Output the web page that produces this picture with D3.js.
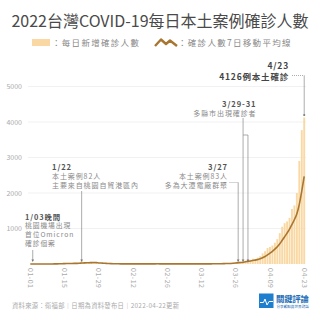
<!DOCTYPE html>
<html>
<head>
<meta charset="utf-8">
<script src="https://cdnjs.cloudflare.com/ajax/libs/d3/7.8.5/d3.min.js"></script>
<style>
body { margin: 0; background: #fff; }
svg { font-family: "Noto Sans CJK TC", "Noto Sans", sans-serif; display: block; }
</style>
</head>
<body>
<div id="chart"></div>
<script>
// daily local cases, by month
var janCases = [1,0,2,0,1,2,3,1,2,5,8,10,12,16,22,14,18,20,13,17,30,82,38,45,27,33,29,22,15,12,10];
var febCases = [8,3,2,3,4,6,5,3,4,6,2,5,3,2,4,5,6,7,3,4,5,6,2,3,4,3,5,2];
var marCases = [3,2,4,2,1,5,6,2,3,4,3,2,4,5,7,8,11,9,7,12,18,20,16,30,38,48,83,62,80,98,112];
var aprCases = [120,150,140,180,220,300,360,450,480,520,600,700,870,1050,1150,1200,1300,1550,1650,2000,2900,3770,4126];

var tickLabels = ["01-01","01-15","01-29","02-12","02-26","03-12","03-26","04-09","04-23"];
var yTicks = [1000, 2000, 3000, 4000, 5000];

var barColor = "#fad8a3";
var lineColor = "#a87631";

function drawChart() {
    var width = 320, height = 320;

    var svg = d3.select("#chart").append("svg")
        .attr("width", width)
        .attr("height", height);

    var cases = janCases.concat(febCases, marCases, aprCases);
    var fmt = d3.timeFormat("%m-%d");
    var days = d3.timeDay.range(new Date(2022, 0, 1), new Date(2022, 3, 24));
    var data = days.map(function(d, i) {
        return { day: fmt(d), value: cases[i] };
    });
    // 7 day moving average
    data.forEach(function(d, i) {
        var win = data.slice(Math.max(0, i - 6), i + 1);
        d.avg = d3.mean(win, function(w) { return w.value; });
    });

    var x = d3.scaleBand()
        .domain(data.map(function(d) { return d.day; }))
        .range([28.8, 305.7])
        .padding(0.22);
    var xc = function(k) { return x(k) + x.bandwidth() / 2; };

    var y = d3.scaleLinear()
        .domain([0, 5000])
        .range([264, 86.5]);

    // title
    svg.append("text")
        .attr("x", 160).attr("y", 27)
        .attr("text-anchor", "middle")
        .style("font-size", "16px")
        .style("fill", "#4a4a4a")
        .text("2022台灣COVID-19每日本土案例確診人數");

    // legend
    svg.append("rect")
        .attr("x", 32).attr("y", 39).attr("width", 18).attr("height", 7)
        .style("fill", barColor);
    svg.append("text")
        .attr("x", 52).attr("y", 46)
        .style("font-size", "8.5px").style("letter-spacing", "1.3px")
        .style("fill", "#888")
        .text("：每日新增確診人數");
    svg.append("path")
        .attr("d", "M155,46 L161,39.5 L166,44 L170,40.5 L177,46")
        .style("fill", "none").style("stroke", lineColor)
        .style("stroke-width", 2.4).style("stroke-linejoin", "round");
    svg.append("text")
        .attr("x", 178).attr("y", 46)
        .style("font-size", "8.5px").style("letter-spacing", "1.3px")
        .style("fill", "#888")
        .text("：確診人數7日移動平均線");

    // grid
    svg.append("g").selectAll("line")
        .data(yTicks)
        .enter().append("line")
        .attr("x1", 28).attr("x2", 306)
        .attr("y1", function(d) { return y(d); })
        .attr("y2", function(d) { return y(d); })
        .style("stroke", "#eeeeee").style("stroke-width", 0.8);

    // y axis
    var yAxis = svg.append("g")
        .attr("transform", "translate(22,0)")
        .call(d3.axisLeft(y).tickValues(yTicks).tickFormat(d3.format("d")).tickSize(0).tickPadding(0));
    yAxis.select(".domain").remove();
    yAxis.selectAll("text")
        .style("font-family", "'Noto Sans CJK TC', sans-serif")
        .style("font-size", "7px").style("fill", "#aaa");

    // x axis, labels run downwards
    var xAxis = svg.append("g")
        .attr("transform", "translate(0,268)")
        .call(d3.axisBottom(x).tickValues(tickLabels).tickSize(0).tickPadding(0));
    xAxis.select(".domain").remove();
    xAxis.selectAll("text")
        .attr("transform", "rotate(90)")
        .attr("x", 0).attr("y", 0).attr("dy", "0.35em")
        .style("text-anchor", "start")
        .style("font-family", "'Noto Sans CJK TC', sans-serif")
        .style("font-size", "7px").style("letter-spacing", "0.5px")
        .style("fill", "#aaa");

    // bars
    svg.append("g").selectAll(".bar")
        .data(data)
        .enter().append("rect")
        .attr("class", "bar")
        .attr("x", function(d) { return x(d.day); })
        .attr("width", x.bandwidth())
        .attr("y", function(d) { return y(d.value); })
        .attr("height", function(d) { return y(0) - y(d.value); })
        .style("fill", barColor);

    // moving average line
    var line = d3.line()
        .x(function(d) { return xc(d.day); })
        .y(function(d) { return y(d.avg); })
        .curve(d3.curveMonotoneX);
    svg.append("path")
        .datum(data)
        .attr("d", line)
        .style("fill", "none")
        .style("stroke", lineColor)
        .style("stroke-width", 1.6);

    // annotations
    var ann = svg.append("g");

    function lines(x0, y0, rows, anchor, gap, size) {
        rows.forEach(function(r, i) {
            ann.append("text")
                .attr("x", x0).attr("y", y0 + i * gap)
                .attr("text-anchor", anchor)
                .style("font-size", r.bold ? (size + 0.6) + "px" : size + "px")
                .style("font-weight", r.bold ? "bold" : "normal")
                .style("letter-spacing", "0.9px")
                .style("fill", r.bold ? "#555" : "#8a8a8a")
                .text(r.t);
        });
    }
    function seg(x1, y1, x2, y2, dash) {
        ann.append("line")
            .attr("x1", x1).attr("y1", y1).attr("x2", x2).attr("y2", y2)
            .style("stroke", "#888").style("stroke-width", 0.7)
            .style("stroke-dasharray", dash ? "1,1" : null);
    }
    function arrow(px, py) {
        ann.append("path")
            .attr("d", "M" + (px - 1.3) + "," + (py - 2.5) + "L" + (px + 1.3) + "," + (py - 2.5) + "L" + px + "," + py + "Z")
            .style("fill", "#777");
    }

    // 1/03
    lines(25, 219.5, [{t: "1/03晚間", bold: true}, {t: "桃園機場出現"}, {t: "首位Omicron"}, {t: "確診個案"}], "start", 8.7, 6.8);
    var a1 = xc("01-02");
    seg(a1, 250, a1, 261);
    arrow(a1, 262);

    // 1/22
    lines(52, 170, [{t: "1/22", bold: true}, {t: "本土案例82人"}, {t: "主要來自桃園自貿港區內"}], "start", 9, 7);
    var a2 = xc("01-22");
    seg(a2, 191, a2, 261);
    arrow(a2, 262);

    // 3/27
    lines(228, 170, [{t: "3/27", bold: true}, {t: "本土案例83人"}, {t: "多為大潭電廠群聚"}], "end", 9, 7);
    var a3 = xc("03-27");
    seg(229.5, 182.5, a3, 182.5, true);
    seg(a3, 182.5, a3, 261);
    arrow(a3, 262);

    // 3/29-31
    lines(256.5, 106.5, [{t: "3/29-31", bold: true}, {t: "多縣市出現確診者"}], "end", 9.5, 7);
    var a4 = xc("03-29"), a5 = xc("03-31");
    seg(a4, 118, a4, 261);
    seg(a4, 135, a5, 135);
    seg(a5, 135, a5, 261);
    arrow(a4, 262);
    arrow(a5, 262);

    // 4/23
    ann.append("text")
        .attr("x", 289).attr("y", 68.5)
        .attr("text-anchor", "end")
        .style("font-size", "8.5px").style("font-weight", "bold")
        .style("letter-spacing", "0.8px").style("fill", "#444")
        .text("4/23");
    ann.append("text")
        .attr("x", 289).attr("y", 79.5)
        .attr("text-anchor", "end")
        .style("font-size", "8.5px").style("font-weight", "bold")
        .style("letter-spacing", "0.8px").style("fill", "#444")
        .text("4126例本土確診");
    var a6 = xc("04-23");
    seg(292, 75.5, a6, 75.5, true);
    seg(a6, 75.5, a6, 114);
    ann.append("circle").attr("cx", a6).attr("cy", 115).attr("r", 1.1).style("fill", "#777");

    // footer
    svg.append("text")
        .attr("x", 12).attr("y", 308)
        .style("font-size", "6.3px").style("letter-spacing", "0.3px")
        .style("fill", "#aaa")
        .text("資料來源：衛福部｜日期為資料發布日｜2022-04-22更新");

    // logo
    var logo = svg.append("g");
    logo.append("rect")
        .attr("x", 259).attr("y", 293.5).attr("width", 14.5).attr("height", 14.5)
        .style("fill", "#1f7fcf");
    logo.append("path")
        .attr("d", "M260,302.5 L263.5,302.5 L265,299 L267,305 L269,301.5 L273,301.5")
        .style("fill", "none").style("stroke", "#fff").style("stroke-width", 1);
    logo.append("text")
        .attr("x", 276).attr("y", 302)
        .style("font-size", "8.4px").style("font-weight", "bold")
        .style("letter-spacing", "-0.2px")
        .style("fill", "#1f6fb8")
        .text("關鍵評論");
    logo.append("text")
        .attr("x", 276.5).attr("y", 307.5)
        .style("font-size", "3.6px")
        .style("fill", "#1f6fb8")
        .text("分享觀點與世界對話");
}

drawChart();
</script>
</body>
</html>
